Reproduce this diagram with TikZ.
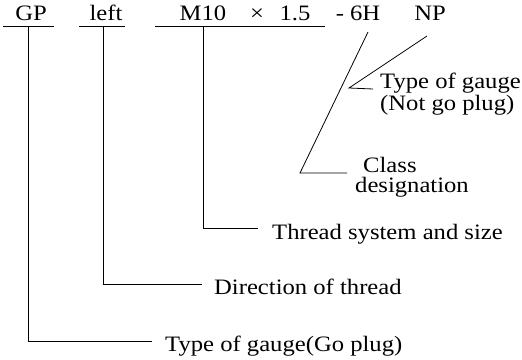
\documentclass[tikz,border=0pt]{standalone}
\usepackage{fontspec}
\setmainfont{Liberation Serif}[FakeStretch=1.12]
\usepackage{tikz}
\usetikzlibrary{
    calc,
    positioning
}
\tikzstyle{leader}=[line width=0.8pt,draw=black]
\tikzstyle{underline}=[line width=0.8pt,draw=black]

\begin{document}
\begin{tikzpicture}[
    x=1pt,y=-1pt,
    font=\fontsize{22pt}{20pt}\selectfont,
    codepart/.style={anchor=base,inner sep=0pt},
    note/.style={anchor=base west,inner sep=0pt,align=left}
]
\useasboundingbox (0,0) rectangle (522,359);
% the gauge designation
\node[codepart] (gp) at (31,20) {GP};
\node[codepart] (dir) at (106,20) {left};
\node[codepart] (size) at (203,20) {M10};
\node[codepart] (times) at (257,20) {×};
\node[codepart] (pitch) at (295,20) {1.5};
\node[codepart] (cls) at (358,20) {- 6H};
\node[codepart] (np) at (430,20) {NP};
\draw[underline] (3,26) -- (54,26);
\draw[underline] (79,26) -- (125,26);
\draw[underline] (155,26) -- (325,26);
\coordinate (gpfoot) at (28,26);
\coordinate (dirfoot) at (103,26);
\coordinate (sizefoot) at (203,26);
\coordinate (clsfoot) at (368,32);
\coordinate (clscorner) at (300,173);
\coordinate (npfoot) at (427,36);
\coordinate (npcorner) at (349,88);
% explanations
\node[note] (gptype) at (165,351) {Type of gauge(Go plug)};
\node[note] (dirtype) at (214,294) {Direction of thread};
\node[note] (sizetype) at (272,239) {Thread system and size};
\node[note] (clstype) at (355,192) {\hspace{8pt}Class\\designation};
\node[note,font=\fontsize{22pt}{15pt}\selectfont] (nptype) at (380,110) {Type of gauge\\(Not go plug)};
\draw[leader] (gpfoot) |- ([xshift=-13pt,yshift=10pt]gptype.base west);
\draw[leader] (dirfoot) |- ([xshift=-12pt,yshift=10pt]dirtype.base west);
\draw[leader] (sizefoot) |- ([xshift=-14pt,yshift=11pt]sizetype.base west);
\draw[leader] (clsfoot) -- (clscorner) -- ([xshift=-8pt]clscorner -| clstype.west);
\draw[leader] (npfoot) -- (npcorner) -- ([xshift=-7pt,yshift=-1pt]npcorner -| nptype.west);
\end{tikzpicture}
\end{document}
